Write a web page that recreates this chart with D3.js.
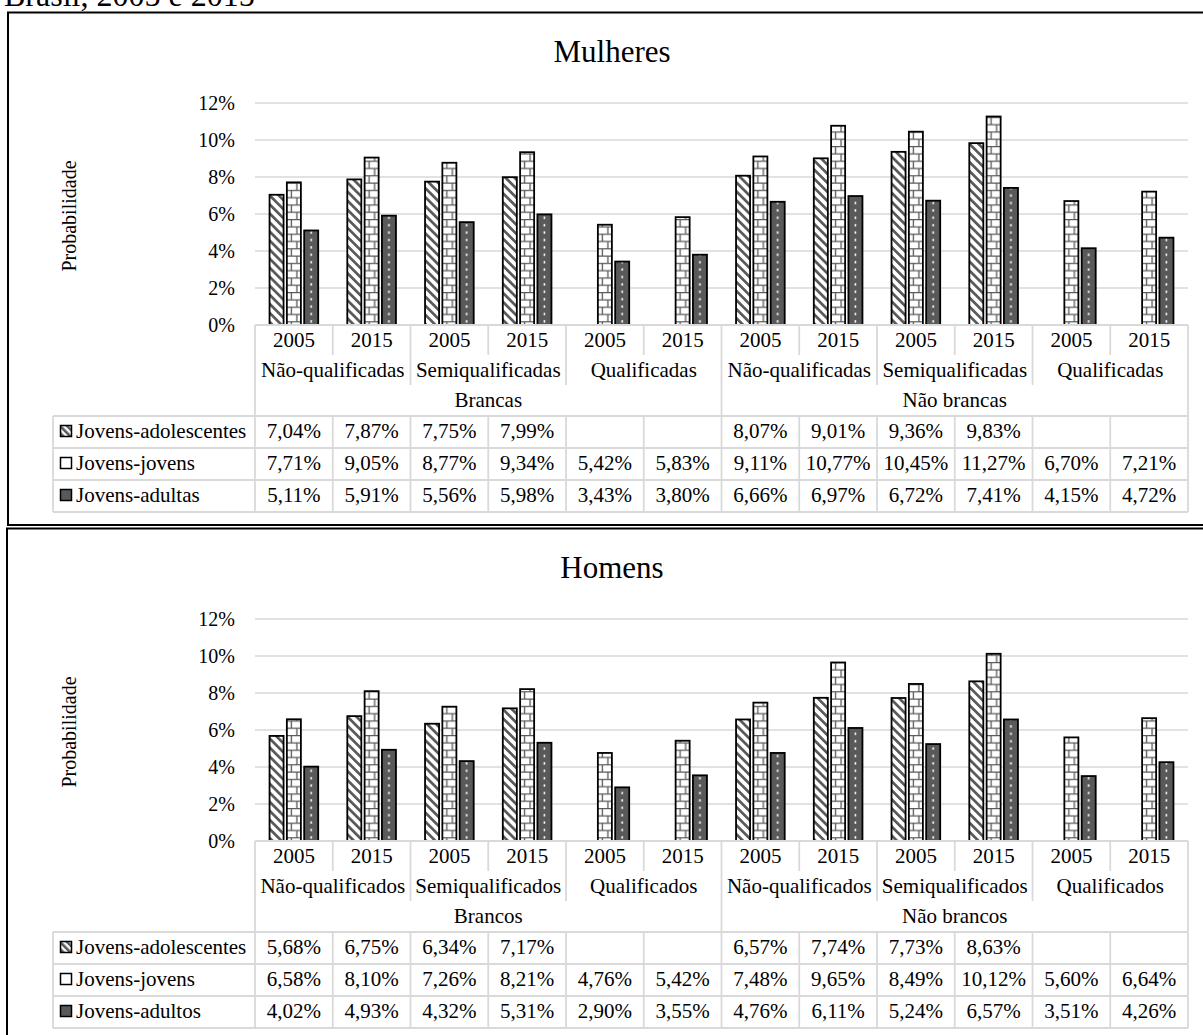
<!DOCTYPE html>
<meta charset="utf-8">
<html>
<head>
<script src="https://cdn.jsdelivr.net/npm/d3@7"></script>
<style>
body { margin: 0; background: white; }
text { font-family: "Liberation Serif", "Times New Roman", serif; fill: black; }
</style>
</head>
<body>
<script>

// ---- data ----------------------------------------------------------------
var years     = ["2005", "2015", "2005", "2015", "2005", "2015",
                 "2005", "2015", "2005", "2015", "2005", "2015"];
var yTicks    = [0, 0.02, 0.04, 0.06, 0.08, 0.10, 0.12];

var groupsF   = ["Não-qualificadas", "Semiqualificadas", "Qualificadas",
                 "Não-qualificadas", "Semiqualificadas", "Qualificadas"];
var racesF    = ["Brancas", "Não brancas"];
var seriesF   = ["Jovens-adolescentes", "Jovens-jovens", "Jovens-adultas"];
var adolF     = [7.04, 7.87, 7.75, 7.99, null, null, 8.07, 9.01, 9.36, 9.83, null, null];
var jovF      = [7.71, 9.05, 8.77, 9.34, 5.42, 5.83, 9.11, 10.77, 10.45, 11.27, 6.70, 7.21];
var adulF     = [5.11, 5.91, 5.56, 5.98, 3.43, 3.80, 6.66, 6.97, 6.72, 7.41, 4.15, 4.72];

var groupsM   = ["Não-qualificados", "Semiqualificados", "Qualificados",
                 "Não-qualificados", "Semiqualificados", "Qualificados"];
var racesM    = ["Brancos", "Não brancos"];
var seriesM   = ["Jovens-adolescentes", "Jovens-jovens", "Jovens-adultos"];
var adolM     = [5.68, 6.75, 6.34, 7.17, null, null, 6.57, 7.74, 7.73, 8.63, null, null];
var jovM      = [6.58, 8.10, 7.26, 8.21, 4.76, 5.42, 7.48, 9.65, 8.49, 10.12, 5.60, 6.64];
var adulM     = [4.02, 4.93, 4.32, 5.31, 2.90, 3.55, 4.76, 6.11, 5.24, 6.57, 3.51, 4.26];

// ---- layout --------------------------------------------------------------
var W = 1203, H = 1035;
var dark = "#595959", grid = "#d9d9d9";
var fs = "21px";

var svg = d3.select("body").append("svg")
  .attr("width", W)
  .attr("height", H);

var x = d3.scaleBand().domain(d3.range(12)).range([255, 1188]);
var xi = d3.scaleBand().domain([0, 1, 2]).range([0, x.bandwidth()])
  .paddingInner(0.19).paddingOuter(0.84);
var y = d3.scaleLinear().domain([0, 0.12]).range([325, 103]);

var fmt = function(v) { return v == null ? "" : v.toFixed(2).replace(".", ",") + "%"; };
var pct = function(v) { return Math.round(v * 100) + "%"; };

// ---- patterns (tiles follow the column band so they line up per bar) ------
var defs = svg.append("defs");

var diag = defs.append("pattern")
  .attr("id", "pDiag")
  .attr("patternUnits", "userSpaceOnUse")
  .attr("width", 6.4).attr("height", 6.4)
  .attr("patternTransform", "rotate(-45)");
diag.append("rect").attr("width", 6.4).attr("height", 6.4).attr("fill", "white");
diag.append("rect").attr("width", 2.7).attr("height", 6.4).attr("fill", dark);

var brickH = 7.3;
var brick = defs.append("pattern")
  .attr("id", "pBrick")
  .attr("patternUnits", "userSpaceOnUse")
  .attr("x", x.range()[0]).attr("y", 0)
  .attr("width", x.bandwidth()).attr("height", brickH * 2);
brick.append("rect").attr("width", x.bandwidth()).attr("height", brickH * 2).attr("fill", "white");
brick.append("path")
  .attr("d", "M0," + 0.6 + "H" + x.bandwidth() +
             "M0," + (brickH + 0.6) + "H" + x.bandwidth() +
             "M" + (xi(1) + 4.5) + ",0V" + brickH +
             "M" + (xi(1) + 10) + "," + brickH + "V" + brickH * 2)
  .attr("stroke", dark).attr("stroke-width", 1.3).attr("fill", "none");

var dotH = 7.4;
var dots = defs.append("pattern")
  .attr("id", "pDots")
  .attr("patternUnits", "userSpaceOnUse")
  .attr("x", x.range()[0]).attr("y", 0)
  .attr("width", x.bandwidth()).attr("height", dotH);
dots.append("rect").attr("width", x.bandwidth()).attr("height", dotH).attr("fill", dark);
dots.append("rect")
  .attr("x", xi(2) + xi.bandwidth() / 2 - 0.8).attr("y", 2)
  .attr("width", 1.6).attr("height", 2.4).attr("fill", "white");

// small legend icon pattern
var iDiag = defs.append("pattern")
  .attr("id", "iDiag")
  .attr("patternUnits", "userSpaceOnUse")
  .attr("width", 5).attr("height", 5)
  .attr("patternTransform", "rotate(-45)");
iDiag.append("rect").attr("width", 5).attr("height", 5).attr("fill", "white");
iDiag.append("rect").attr("width", 2.6).attr("height", 5).attr("fill", dark);

var fills = ["url(#pDiag)", "url(#pBrick)", "url(#pDots)"];
var iconFills = ["url(#iDiag)", "white", dark];

// header text cut at the top of the page
svg.append("text")
  .attr("x", 4)
  .attr("y", 6)
  .style("font-size", "32px")
  .text("Brasil, 2005 e 2015");

// ---- one panel -----------------------------------------------------------
function drawPanel(dy, boxX, title, groups, races, seriesNames, values) {
  var g = svg.append("g").attr("transform", "translate(0," + dy + ")");

  g.append("rect")
    .attr("x", boxX).attr("y", 12.5)
    .attr("width", W + 10).attr("height", 512.5)
    .attr("fill", "none").attr("stroke", "black").attr("stroke-width", 2);

  g.append("text")
    .attr("x", 612).attr("y", 62)
    .attr("text-anchor", "middle")
    .style("font-size", "31px")
    .text(title);

  g.append("text")
    .attr("transform", "translate(76,216) rotate(-90)")
    .attr("text-anchor", "middle")
    .style("font-size", "20px")
    .text("Probabilidade");

  // gridlines + tick labels
  g.selectAll(".grid").data(yTicks.slice(1)).enter().append("line")
    .attr("x1", x.range()[0]).attr("x2", x.range()[1])
    .attr("y1", function(d) { return y(d); })
    .attr("y2", function(d) { return y(d); })
    .attr("stroke", grid).attr("stroke-width", 1.5);

  g.selectAll(".tick").data(yTicks).enter().append("text")
    .attr("x", 235)
    .attr("y", function(d) { return y(d); })
    .attr("dy", "0.35em")
    .attr("text-anchor", "end")
    .style("font-size", "20px")
    .text(pct);

  // bars (empty cells are skipped, column index kept)
  values.forEach(function(vals, s) {
    var pts = vals.map(function(v, i) { return { i: i, v: v }; })
      .filter(function(d) { return d.v != null; });
    g.selectAll(".bar" + s).data(pts).enter().append("rect")
      .attr("x", function(d) { return x(d.i) + xi(s); })
      .attr("y", function(d) { return y(d.v / 100); })
      .attr("width", xi.bandwidth())
      .attr("height", function(d) { return y(0) - y(d.v / 100); })
      .attr("fill", fills[s])
      .attr("stroke", "black")
      .attr("stroke-width", 1.8);
  });

  // ---- table under the axis ----
  var lines = [];
  var L = x.range()[0], R = x.range()[1];
  var rowTop = 416, rowH = 32, tabL = 53;
  lines.push([L, 325, R, 325]);
  lines.push([L, 325, L, rowTop]);
  lines.push([R, 325, R, rowTop]);
  d3.range(1, 12).forEach(function(i) {
    var bottom = i % 6 == 0 ? rowTop : (i % 2 == 0 ? 385 : 355);
    lines.push([x(i), 325, x(i), bottom]);
  });
  d3.range(4).forEach(function(r) {
    lines.push([tabL, rowTop + r * rowH, R, rowTop + r * rowH]);
  });
  [tabL].concat(d3.range(12).map(function(i) { return x(i); }), [R]).forEach(function(xx) {
    lines.push([xx, rowTop, xx, rowTop + 3 * rowH]);
  });
  g.selectAll(".tl").data(lines).enter().append("line")
    .attr("x1", function(d) { return d[0]; })
    .attr("y1", function(d) { return d[1]; })
    .attr("x2", function(d) { return d[2]; })
    .attr("y2", function(d) { return d[3]; })
    .attr("stroke", grid).attr("stroke-width", 1.8);

  g.selectAll(".yr").data(years).enter().append("text")
    .attr("x", function(d, i) { return x(i) + x.bandwidth() / 2; })
    .attr("y", 347)
    .attr("text-anchor", "middle")
    .style("font-size", fs)
    .text(function(d) { return d; });

  g.selectAll(".grp").data(groups).enter().append("text")
    .attr("x", function(d, i) { return x(i * 2) + x.bandwidth(); })
    .attr("y", 377)
    .attr("text-anchor", "middle")
    .style("font-size", fs)
    .text(function(d) { return d; });

  g.selectAll(".race").data(races).enter().append("text")
    .attr("x", function(d, i) { return x(i * 6) + x.bandwidth() * 3; })
    .attr("y", 407)
    .attr("text-anchor", "middle")
    .style("font-size", fs)
    .text(function(d) { return d; });

  seriesNames.forEach(function(name, s) {
    var ty = rowTop + s * rowH;
    g.append("rect")
      .attr("x", 60.5).attr("y", ty + 9.5)
      .attr("width", 11).attr("height", 11)
      .attr("fill", iconFills[s])
      .attr("stroke", "black").attr("stroke-width", 1.5);
    g.append("text")
      .attr("x", 76).attr("y", ty + 22)
      .style("font-size", fs)
      .text(name);
    g.selectAll(".val" + s).data(values[s]).enter().append("text")
      .attr("x", function(d, i) { return x(i) + x.bandwidth() / 2; })
      .attr("y", ty + 22)
      .attr("text-anchor", "middle")
      .style("font-size", fs)
      .text(fmt);
  });
}

drawPanel(0, 8, "Mulheres", groupsF, racesF, seriesF, [adolF, jovF, adulF]);
drawPanel(516, 7, "Homens", groupsM, racesM, seriesM, [adolM, jovM, adulM]);

</script>
</body>
</html>
